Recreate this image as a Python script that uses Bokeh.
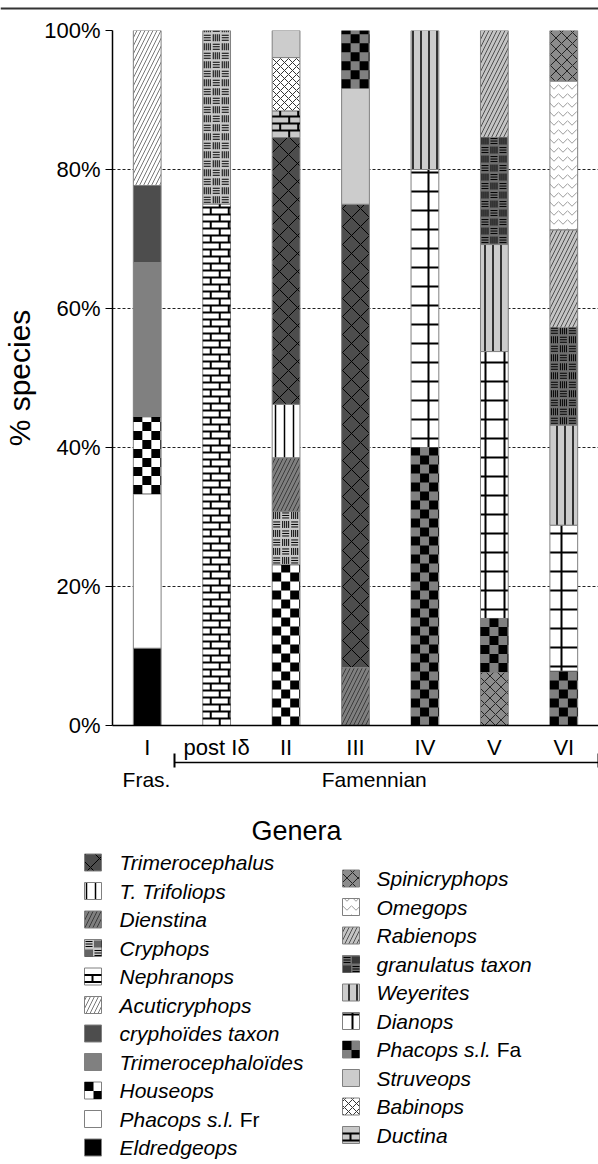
import math
import numpy as np
from bokeh.plotting import figure
from bokeh.models import Range1d, FixedTicker, PrintfTickFormatter, LinearAxis, ColumnDataSource
from bokeh.core.properties import value
from bokeh.embed import file_html
from bokeh.resources import INLINE

# ---------------- data ----------------
intervals = ["I", "post Iδ", "II", "III", "IV", "V", "VI"]
periods = ["Fras.", "Famennian"]
y_ticks = [0, 20, 40, 60, 80, 100]

genera_left = ["Trimerocephalus", "T. Trifoliops", "Dienstina", "Cryphops", "Nephranops",
               "Acuticryphops", "cryphoïdes taxon", "Trimerocephaloïdes", "Houseops",
               "Phacops s.l. Fr", "Eldredgeops"]
genera_right = ["Spinicryphops", "Omegops", "Rabienops", "granulatus taxon", "Weyerites",
                "Dianops", "Phacops s.l. Fa", "Struveops", "Babinops", "Ductina"]

# stacks, bottom -> top, % of species
stack_I = ["Eldredgeops", "Phacops s.l. Fr", "Houseops", "Trimerocephaloïdes",
           "cryphoïdes taxon", "Acuticryphops"]
pct_I = [11.1, 22.2, 11.1, 22.2, 11.1, 22.3]

stack_post = ["Nephranops", "Cryphops"]
pct_post = [75.0, 25.0]

stack_II = ["Houseops", "Cryphops", "Dienstina", "T. Trifoliops", "Trimerocephalus",
            "Ductina", "Babinops", "Struveops"]
pct_II = [23.1, 7.7, 7.7, 7.7, 38.4, 3.8, 7.7, 3.9]

stack_III = ["Dienstina", "Trimerocephalus", "Struveops", "Phacops s.l. Fa"]
pct_III = [8.3, 66.7, 16.7, 8.3]

stack_IV = ["Phacops s.l. Fa", "Dianops", "Weyerites"]
pct_IV = [40.0, 40.0, 20.0]

stack_V = ["Spinicryphops", "Phacops s.l. Fa", "Dianops", "Weyerites",
           "granulatus taxon", "Rabienops"]
pct_V = [7.7, 7.7, 38.4, 15.4, 15.4, 15.4]

stack_VI = ["Phacops s.l. Fa", "Dianops", "Weyerites", "granulatus taxon",
            "Rabienops", "Omegops", "Spinicryphops"]
pct_VI = [7.8, 21.0, 14.4, 14.0, 14.1, 21.4, 7.3]

stacks = {"I": (stack_I, pct_I), "post Iδ": (stack_post, pct_post), "II": (stack_II, pct_II),
          "III": (stack_III, pct_III), "IV": (stack_IV, pct_IV), "V": (stack_V, pct_V),
          "VI": (stack_VI, pct_VI)}

# ---------------- styles ----------------
FONT = "Liberation Sans"

STYLES = {
    "Trimerocephalus": dict(fill_color="#4d4d4d", hatch_pattern="x", hatch_color="black", hatch_scale=18, hatch_weight=1),
    "T. Trifoliops": dict(fill_color="white", hatch_pattern="|", hatch_color="black", hatch_scale=9, hatch_weight=1.5),
    "Dienstina": dict(fill_color="#7f7f7f", hatch_pattern="/", hatch_color="#3c3c3c", hatch_scale=8, hatch_weight=1),
    "Cryphops": dict(fill_color="#c8c8c8"),
    "Nephranops": dict(fill_color="white"),
    "Acuticryphops": dict(fill_color="white", hatch_pattern="/", hatch_color="#555555", hatch_scale=8, hatch_weight=0.8),
    "cryphoïdes taxon": dict(fill_color="#4d4d4d"),
    "Trimerocephaloïdes": dict(fill_color="#808080"),
    "Houseops": dict(fill_color="white"),
    "Phacops s.l. Fr": dict(fill_color="white"),
    "Eldredgeops": dict(fill_color="black"),
    "Spinicryphops": dict(fill_color="#8c8c8c", hatch_pattern="x", hatch_color="#222222", hatch_scale=11, hatch_weight=1),
    "Omegops": dict(fill_color="white", hatch_pattern="v", hatch_color="#9a9a9a", hatch_scale=9, hatch_weight=1),
    "Rabienops": dict(fill_color="#c4c4c4", hatch_pattern="/", hatch_color="#505050", hatch_scale=8, hatch_weight=1),
    "granulatus taxon": dict(fill_color="#707070"),
    "Weyerites": dict(fill_color="#cccccc", hatch_pattern="|", hatch_color="black", hatch_scale=8, hatch_weight=1.5),
    "Dianops": dict(fill_color="white", hatch_pattern="+", hatch_color="black", hatch_scale=19, hatch_weight=2),
    "Phacops s.l. Fa": dict(fill_color="#808080"),
    "Struveops": dict(fill_color="#cccccc"),
    "Babinops": dict(fill_color="white", hatch_pattern="x", hatch_color="#333333", hatch_scale=8, hatch_weight=1),
    "Ductina": dict(fill_color="#c8c8c8"),
}
# patterns that Bokeh has no hatch for are drawn as overlay marks
PATTERN = {"Cryphops": "basket", "granulatus taxon": "basket", "Nephranops": "brick",
           "Ductina": "brick", "Houseops": "checker", "Phacops s.l. Fa": "checker"}
OUTLINE = dict(line_color="#808080", line_width=1)


def pattern_marks(kind, left, right, lo, hi, ux, uy, rects, thick, thin):
    """Append overlay marks (in data units) filling box [left,right]x[lo,hi]; ux, uy = px per unit."""
    W = (right - left) * ux
    H = (hi - lo) * uy
    X = lambda px: left + min(max(px, 0), W) / ux
    Y = lambda py: lo + min(max(py, 0), H) / uy

    def add(store, x0, y0, x1, y1):
        for k, v in zip(("x0", "y0", "x1", "y1"), (x0, y0, x1, y1)):
            store[k].append(v)

    if kind == "checker":
        c = 9
        for j in range(math.ceil(H / c)):
            for i in range(math.ceil(W / c)):
                if (i + j) % 2 == 0:
                    rects["left"].append(X(i * c)); rects["right"].append(X((i + 1) * c))
                    rects["bottom"].append(Y(j * c)); rects["top"].append(Y((j + 1) * c))
    elif kind == "brick":
        rh, bw = 7, 18
        for j in range(math.ceil(H / rh)):
            if j > 0:
                add(thick, X(0), Y(j * rh), X(W), Y(j * rh))
            xp = 17 if j % 2 == 0 else 8
            while xp < W - 1:
                add(thick, X(xp), Y(j * rh), X(xp), Y((j + 1) * rh))
                xp += bw
    elif kind == "basket":
        c = 9
        for j in range(math.ceil(H / c)):
            for i in range(math.ceil(W / c)):
                bx, by = i * c, j * c
                if by + 1 >= H or bx + 1 >= W:
                    continue
                if (i + j) % 2 == 0:
                    for t in (2, 4.5, 7):
                        if by + t < H:
                            add(thin, X(bx + 1), Y(by + t), X(bx + 8), Y(by + t))
                else:
                    for t in (1.5, 3.5, 5.5, 7.5):
                        if bx + t < W:
                            add(thin, X(bx + t), Y(by + 1), X(bx + t), Y(by + 8))


def empty_marks():
    return (dict(left=[], right=[], bottom=[], top=[]),
            dict(x0=[], y0=[], x1=[], y1=[]), dict(x0=[], y0=[], x1=[], y1=[]))


def draw_marks(fig, rects, thick, thin):
    fig.quad(source=ColumnDataSource(rects), left="left", right="right", bottom="bottom", top="top",
             fill_color="black", line_color=None)
    fig.segment(source=ColumnDataSource(thick), x0="x0", y0="y0", x1="x1", y1="y1",
                line_color="black", line_width=2)
    fig.segment(source=ColumnDataSource(thin), x0="x0", y0="y0", x1="x1", y1="y1",
                line_color="black", line_width=1)


# ---------------- layout constants ----------------
n = len(intervals)
FRAME_W, FRAME_H = 486, 695
STRIP_H = 10
BORDER_L, BORDER_R, BORDER_T, BORDER_B = 110, 2, 30 - STRIP_H, 70
P_H = BORDER_T + FRAME_H + BORDER_B
PAGE_W = BORDER_L + FRAME_W + BORDER_R
BAR_W = 0.4
UX, UY = FRAME_W / n, FRAME_H / 100.0

# ---------------- top rule ----------------
top = figure(x_range=Range1d(0, PAGE_W), y_range=Range1d(STRIP_H, 0), width=PAGE_W, height=STRIP_H,
             min_border=0, x_axis_location=None, y_axis_location=None,
             output_backend="svg", toolbar_location=None, outline_line_color=None)
top.xgrid.visible = False
top.ygrid.visible = False
top.segment(x0=[0], y0=[6], x1=[PAGE_W], y1=[6], line_color="#333333", line_width=2)

# ---------------- chart ----------------
centers = [i + 0.5 for i in range(n)]          # slot centres on the x scale
p = figure(x_range=Range1d(0, n), y_range=Range1d(0, 100),
           frame_width=FRAME_W, frame_height=FRAME_H,
           min_border_left=BORDER_L, min_border_right=BORDER_R,
           min_border_top=BORDER_T, min_border_bottom=BORDER_B,
           output_backend="svg", toolbar_location=None, outline_line_color=None,
           background_fill_color="white", border_fill_color="white")

all_genera = genera_left + genera_right
segs = {g: dict(x=[], bottom=[], top=[]) for g in all_genera}
for iv, cx in zip(intervals, centers):
    names, pcts = stacks[iv]
    tops = np.cumsum(pcts)
    bottoms = tops - np.array(pcts)
    for g, b, t in zip(names, bottoms, tops):
        segs[g]["x"].append(cx)
        segs[g]["bottom"].append(float(b))
        segs[g]["top"].append(float(t))

rects, thick, thin = empty_marks()
for g in all_genera:
    if segs[g]["x"]:
        p.vbar(x="x", bottom="bottom", top="top", width=BAR_W, source=ColumnDataSource(segs[g]),
               **OUTLINE, **STYLES[g])
        if g in PATTERN:
            for cx, b, t in zip(segs[g]["x"], segs[g]["bottom"], segs[g]["top"]):
                pattern_marks(PATTERN[g], cx - BAR_W / 2, cx + BAR_W / 2, b, t, UX, UY, rects, thick, thin)
draw_marks(p, rects, thick, thin)

# y axis
ya = p.yaxis[0]
ya.ticker = FixedTicker(ticks=y_ticks)
ya.formatter = PrintfTickFormatter(format="%d%%")
ya.axis_label = "% species"
ya.axis_label_text_font = FONT
ya.axis_label_text_font_size = "30px"
ya.axis_label_text_font_style = "normal"
ya.axis_label_text_color = "black"
ya.axis_label_standoff = 5
ya.major_label_text_font = FONT
ya.major_label_text_font_size = "22px"
ya.major_label_text_color = "black"
ya.major_label_standoff = 5
ya.major_tick_out = 7
ya.major_tick_in = 0
ya.major_tick_line_color = "black"
ya.minor_tick_line_color = None
ya.axis_line_color = "black"
ya.axis_line_width = 1.5

p.xgrid.grid_line_color = None
p.ygrid.ticker = FixedTicker(ticks=y_ticks)
p.ygrid.grid_line_color = "#222222"
p.ygrid.grid_line_dash = "3 2"
p.ygrid.grid_line_width = 1

# x axis: interval names
xa = p.xaxis[0]
xa.ticker = FixedTicker(ticks=centers)
xa.major_label_overrides = {c: name for c, name in zip(centers, intervals)}
xa.major_tick_line_color = None
xa.minor_tick_line_color = None
xa.major_tick_out = 0
xa.major_tick_in = 0
xa.axis_line_color = "black"
xa.axis_line_width = 1.5
xa.major_label_text_font = FONT
xa.major_label_text_font_size = "22px"
xa.major_label_text_color = "black"
xa.major_label_standoff = 9

# period bracket (Famennian span) and period labels
bracket_ends = [0.9, float(n)]
br = LinearAxis(bounds=(bracket_ends[0], bracket_ends[1]),
                ticker=FixedTicker(ticks=bracket_ends),
                major_label_overrides={bracket_ends[0]: "", bracket_ends[1]: ""},
                major_label_text_font_size="1px", major_label_standoff=0,
                major_tick_in=9, major_tick_out=5, major_tick_line_width=2,
                major_tick_line_color="black", minor_tick_line_color=None,
                axis_line_color="black", axis_line_width=1.5)
p.add_layout(br, "below")

period_pos = [0.49, 3.77]
gl = LinearAxis(ticker=FixedTicker(ticks=period_pos),
                major_label_overrides={period_pos[0]: periods[0], period_pos[1]: periods[1]},
                major_label_text_font=FONT, major_label_text_font_size="21px",
                major_label_text_color="black", major_label_standoff=0,
                major_tick_in=0, major_tick_out=0,
                major_tick_line_color=None, minor_tick_line_color=None, axis_line_color=None)
p.add_layout(gl, "below")

# ---------------- legend panel ----------------
OFF = STRIP_H + P_H          # page y of the legend panel's top
LH = 1160 - OFF
q = figure(x_range=Range1d(0, PAGE_W), y_range=Range1d(LH, 0), width=PAGE_W, height=LH,
           min_border=0, x_axis_location=None, y_axis_location=None,
           output_backend="svg", toolbar_location=None, outline_line_color=None)
q.xgrid.visible = False
q.ygrid.visible = False

q.text(x=[296], y=[830 - OFF], text=["Genera"], text_font=value(FONT), text_font_size=value("27px"),
       text_align="center", text_baseline="middle", text_color="black")

ROW = 28.5
ICON = 17
FS = 21
suffix = {"Phacops s.l. Fr": ("Phacops s.l.", "Fr"), "Phacops s.l. Fa": ("Phacops s.l.", "Fa")}
ITALIC_PART_EM = 5.725  # width of "Phacops s.l. " in em

lrects, lthick, lthin = empty_marks()
for names, icon_x, text_x, y0 in [(genera_left, 84, 119, 862 - OFF), (genera_right, 342, 376, 878 - OFF)]:
    for i, g in enumerate(names):
        yc = y0 + i * ROW
        q.quad(left=[icon_x], right=[icon_x + ICON], top=[yc - ICON / 2], bottom=[yc + ICON / 2],
               **OUTLINE, **STYLES[g])
        if g in PATTERN:
            pattern_marks(PATTERN[g], icon_x, icon_x + ICON, yc - ICON / 2, yc + ICON / 2, 1, 1,
                          lrects, lthick, lthin)
        ital, up = suffix.get(g, (g, None))
        q.text(x=[text_x], y=[yc], text=[ital], text_font=value(FONT), text_font_style="italic",
               text_font_size=value(f"{FS}px"), text_baseline="middle", text_color="black")
        if up:
            q.text(x=[text_x + ITALIC_PART_EM * FS], y=[yc], text=[up], text_font=value(FONT),
                   text_font_size=value(f"{FS}px"), text_baseline="middle", text_color="black")
draw_marks(q, lrects, lthick, lthin)

open("out.html", "w").write(file_html([top, p, q], INLINE))
